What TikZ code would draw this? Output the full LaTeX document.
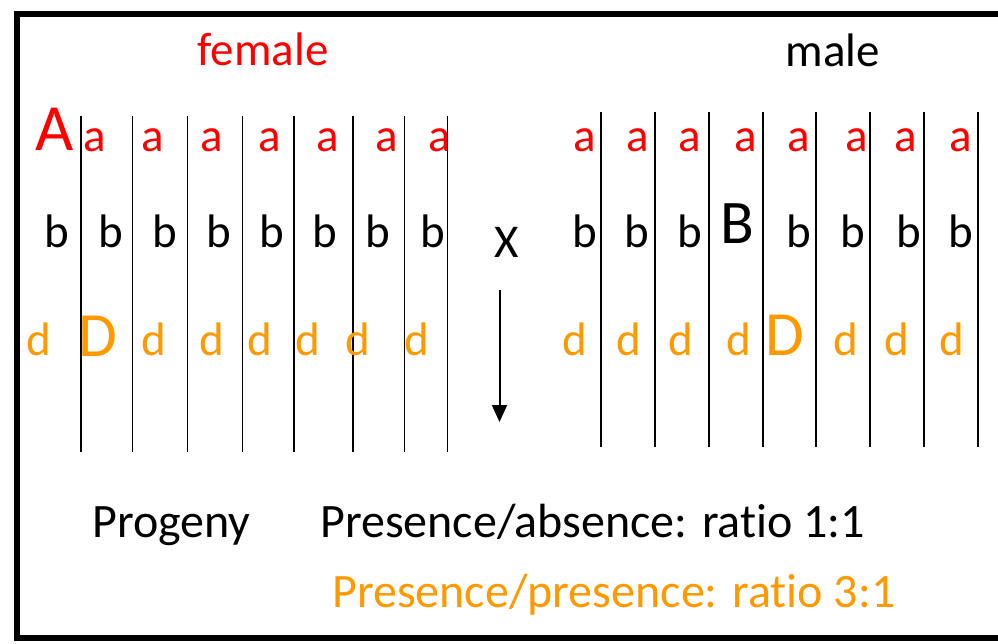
\documentclass[tikz,border=0pt]{standalone}
\usepackage{fontspec}
\setmainfont[Ligatures=NoCommon]{Carlito}
\usetikzlibrary{arrows.meta}
\definecolor{allelered}{RGB}{255,0,0}
\definecolor{alleleorange}{RGB}{255,153,0}
\begin{document}
\begin{tikzpicture}[x=1pt,y=-1pt,
  gene/.style={anchor=base, inner sep=0pt, font=\fontsize{47}{50}\selectfont},
  biggene/.style={anchor=base, inner sep=0pt, font=\fontsize{#1}{#1}\selectfont},
  chrom/.style={line width=1.3pt},
  label/.style={anchor=base west, inner sep=0pt, font=\fontsize{48}{52}\selectfont}]
\useasboundingbox (0,0) rectangle (998,643);
% outer frame, running off the right edge
\begin{scope}
  \clip (0,0) rectangle (998,643);
  \draw[line width=6pt] (17,14) rectangle (1006,638);
\end{scope}

% titles
\node[gene, text=allelered] (female) at (263,65) {female};
\node[gene] (male) at (833,66) {male};

% female chromosomes
\foreach \x [count=\i] in {81,132.3,187.7,242.7,294,353,404.3,447.3}
  \draw[chrom] (\x,115.7) coordinate (ft\i) -- (\x,452) coordinate (fb\i);

% female alleles
\node[biggene=66, text=allelered] (fA) at (55,150) {A};
\foreach \x [count=\i] in {95,153,212,270,328,387,440}
  \node[gene, text=allelered] (fa\i) at (\x,151.5) {a};
\foreach \x [count=\i] in {57,111,165,219,272,325,378,433}
  \node[gene] (fb\i) at (\x,247) {b};
\node[gene, text=alleleorange] (fd1) at (39,355) {d};
\node[biggene=63, text=alleleorange] (fD) at (98,356.5) {D};
\foreach \x [count=\i] in {154,212,260,308,358,417}
  \node[gene, text=alleleorange] (fdd\i) at (\x,355) {d};

% male chromosomes
\foreach \x [count=\i] in {601,655,709,763,816,870,924,978}
  \draw[chrom] (\x,111.7) coordinate (mt\i) -- (\x,447.3) coordinate (mb\i);

% male alleles
\foreach \x [count=\i] in {585,638,690,746,799,857,906,961}
  \node[gene, text=allelered] (ma\i) at (\x,151.5) {a};
\foreach \x [count=\i] in {585,637,690}
  \node[gene] (mb\i) at (\x,247) {b};
\node[biggene=62] (mB) at (737,243) {B};
\foreach \x [count=\i] in {799,853,909,961}
  \node[gene] (mbb\i) at (\x,247) {b};
\foreach \x [count=\i] in {575,629,681,739}
  \node[gene, text=alleleorange] (md\i) at (\x,355) {d};
\node[biggene=63, text=alleleorange] (mD) at (785,355) {D};
\foreach \x [count=\i] in {846,897,952}
  \node[gene, text=alleleorange] (mdd\i) at (\x,355) {d};

% cross sign and arrow to the progeny
\node[gene] (cross) at (507,257) {X};
\coordinate (arrtop) at (499.5,290);
\coordinate (arrbot) at (499.5,422);
\draw[line width=2pt, -{Triangle[width=15pt,length=17pt]}] (arrtop) -- (arrbot);

% progeny ratios
\node[label] (progeny) at (92,537) {Progeny};
\node[label] (absence) at (320,537) {Presence/absence: ratio 1:1};
\node[label, text=alleleorange] (presence) at (332,607) {Presence/presence: ratio 3:1};
\end{tikzpicture}
\end{document}
